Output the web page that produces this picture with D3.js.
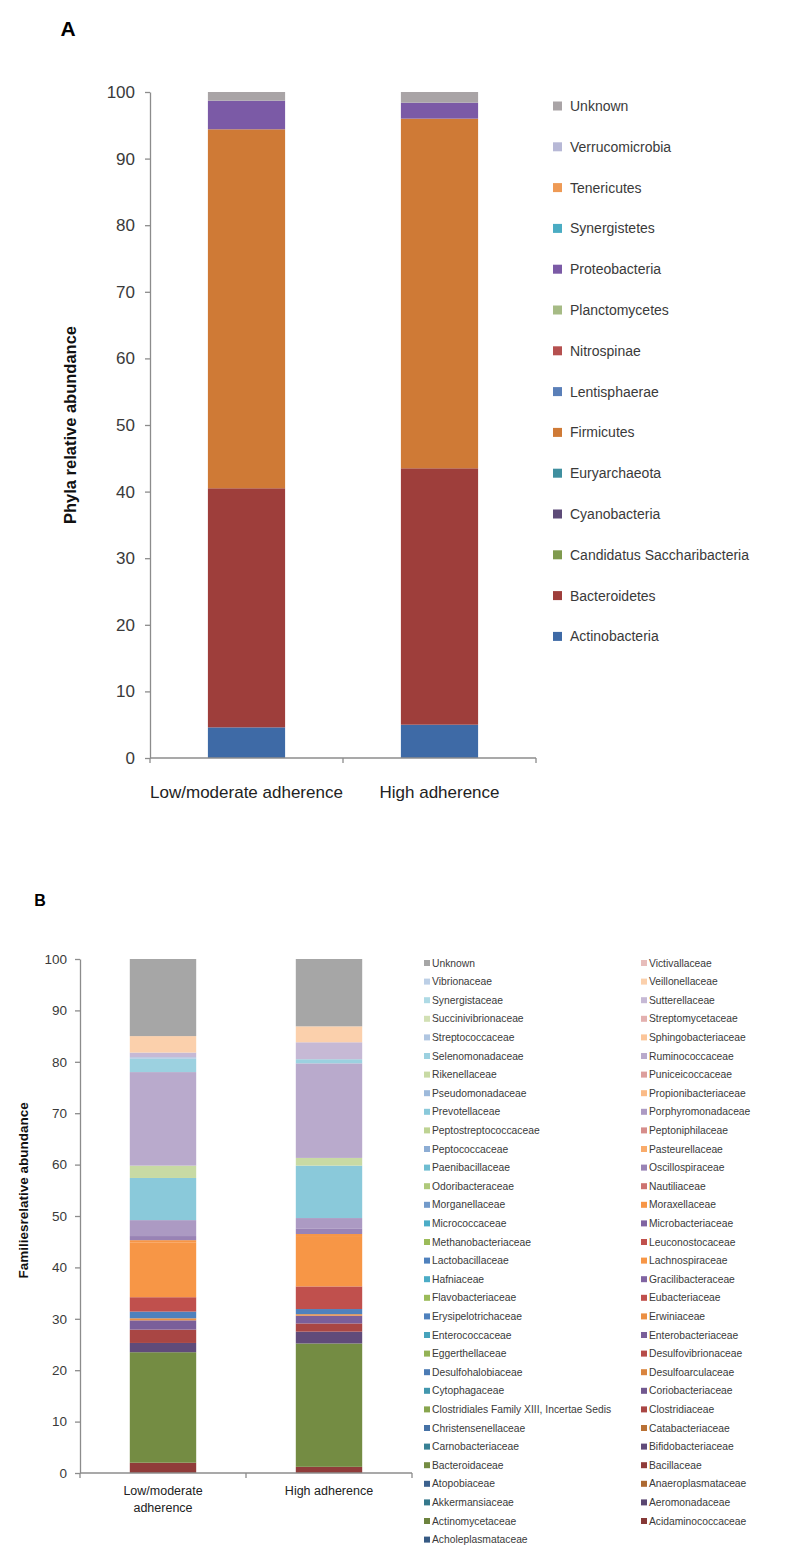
<!DOCTYPE html>
<html>
<head>
<meta charset="utf-8">
<script src="https://cdn.jsdelivr.net/npm/d3@7"></script>
<style>
  body { margin: 0; background: #fff; }
  svg { display: block; font-family: "Liberation Sans", Arial, sans-serif; }
</style>
</head>
<body>
<div id="chart"></div>
<script>
// ---- panel A: phyla ----
const groups = ["Low/moderate adherence", "High adherence"];

const phyla = ["Actinobacteria", "Bacteroidetes", "Candidatus Saccharibacteria", "Cyanobacteria",
  "Euryarchaeota", "Firmicutes", "Lentisphaerae", "Nitrospinae", "Planctomycetes",
  "Proteobacteria", "Synergistetes", "Tenericutes", "Verrucomicrobia", "Unknown"];
const phylaLow  = [4.6, 35.9, 0, 0, 0, 53.9, 0, 0, 0, 4.3, 0, 0, 0, 1.3];
const phylaHigh = [5.0, 38.5, 0, 0, 0, 52.5, 0, 0, 0, 2.4, 0, 0, 0, 1.6];

// ---- panel B: families ----
const families = ["Acholeplasmataceae", "Acidaminococcaceae", "Actinomycetaceae", "Aeromonadaceae",
  "Akkermansiaceae", "Anaeroplasmataceae", "Atopobiaceae", "Bacillaceae", "Bacteroidaceae",
  "Bifidobacteriaceae", "Carnobacteriaceae", "Catabacteriaceae", "Christensenellaceae",
  "Clostridiaceae", "Clostridiales Family XIII, Incertae Sedis", "Coriobacteriaceae",
  "Cytophagaceae", "Desulfoarculaceae", "Desulfohalobiaceae", "Desulfovibrionaceae",
  "Eggerthellaceae", "Enterobacteriaceae", "Enterococcaceae", "Erwiniaceae",
  "Erysipelotrichaceae", "Eubacteriaceae", "Flavobacteriaceae", "Gracilibacteraceae",
  "Hafniaceae", "Lachnospiraceae", "Lactobacillaceae", "Leuconostocaceae",
  "Methanobacteriaceae", "Microbacteriaceae", "Micrococcaceae", "Moraxellaceae",
  "Morganellaceae", "Nautiliaceae", "Odoribacteraceae", "Oscillospiraceae",
  "Paenibacillaceae", "Pasteurellaceae", "Peptococcaceae", "Peptoniphilaceae",
  "Peptostreptococcaceae", "Porphyromonadaceae", "Prevotellaceae", "Propionibacteriaceae",
  "Pseudomonadaceae", "Puniceicoccaceae", "Rikenellaceae", "Ruminococcaceae",
  "Selenomonadaceae", "Sphingobacteriaceae", "Streptococcaceae", "Streptomycetaceae",
  "Succinivibrionaceae", "Sutterellaceae", "Synergistaceae", "Veillonellaceae",
  "Vibrionaceae", "Victivallaceae", "Unknown"];
const familiesLow = [
  0, 0, 0, 0, 0, 0, 0, 2.0, 21.5, 1.8,
  0, 0, 0, 2.6, 0, 0, 0, 0, 0, 0,
  0, 1.8, 0, 0.4, 1.3, 2.8, 0, 0, 0, 10.6,
  0, 0, 0, 0, 0, 0.5, 0, 0, 0, 0.8,
  0, 0, 0, 0, 0, 3.1, 8.2, 0, 0, 0,
  2.4, 18.2, 2.6, 0, 0.3, 0, 0, 0.9, 0, 3.2,
  0, 0, 15.0];
const familiesHigh = [
  0, 0, 0, 0, 0, 0, 0, 1.2, 24.0, 2.3,
  0, 0, 0, 1.6, 0, 0, 0, 0, 0, 0,
  0, 1.5, 0, 0.3, 1.0, 4.4, 0, 0, 0, 9.8,
  0, 0, 0, 0, 0, 0.4, 0, 0, 0, 1.0,
  0, 0, 0, 0, 0, 2.1, 10.2, 0, 0, 0,
  1.5, 18.4, 0.8, 0, 0, 0, 0, 3.3, 0, 3.1,
  0, 0, 13.1];

const yTicks = [0, 10, 20, 30, 40, 50, 60, 70, 80, 90, 100];

// colours
const phylaColors = ["#3e6aa6", "#9e3e3b", "#7f9a4e", "#5d4b78", "#3f8f9f", "#cf7a36",
  "#5a7fb8", "#b5504f", "#a6bb85", "#7b5aa6", "#4aacc3", "#ee9a55", "#b7b8d6", "#a9a4a6"];
const baseHues = ["#4f81bd", "#c0504d", "#9bbb59", "#8064a2", "#4bacc6", "#f79646"];
// shade (<0) or tint (>0) per block of six series
const blockShade = [-0.3, -0.25, -0.12, -0.05, 0, 0, 0.2, 0.35, 0.45, 0.55, 0.62];
function familyColor(name, i) {
  if (name === "Unknown") return "#a6a6a6";
  const base = baseHues[i % 6];
  const s = blockShade[Math.floor(i / 6)];
  return s < 0 ? d3.interpolateRgb(base, "#000")(-s) : d3.interpolateRgb(base, "#fff")(s);
}

const W = 786, H = 1559;
const svg = d3.select("#chart").append("svg")
    .attr("width", W)
    .attr("height", H);

function stackedPanel(opt) {
  const rows = opt.groups.map((g, gi) => {
    const r = {group: g};
    opt.keys.forEach((k, i) => r[k] = opt.values[gi][i]);
    return r;
  });
  const series = d3.stack().keys(opt.keys)(rows);

  const x = d3.scaleBand().domain(opt.groups).range(opt.xRange)
      .paddingInner(0.6).paddingOuter(0.3);
  const y = d3.scaleLinear().domain([0, 100]).range(opt.yRange);

  const g = svg.append("g");

  g.append("g").selectAll("g")
    .data(series)
    .join("g")
      .attr("fill", (d, i) => opt.color(d.key, i))
    .selectAll("rect")
    .data(d => d)
    .join("rect")
      .attr("x", d => x(d.data.group))
      .attr("width", x.bandwidth())
      .attr("y", d => y(d[1]))
      .attr("height", d => y(d[0]) - y(d[1]));

  // y axis
  const yAxis = g.append("g")
      .attr("transform", `translate(${opt.xRange[0]},0)`)
      .call(d3.axisLeft(y).tickValues(yTicks).tickSize(5).tickSizeOuter(0).tickPadding(opt.tickPad));
  yAxis.select(".domain").attr("stroke", "#8c8c8c").attr("stroke-width", 1.3);
  yAxis.selectAll(".tick line").attr("stroke", "#8c8c8c").attr("stroke-width", 1.3);
  yAxis.selectAll(".tick text")
      .attr("fill", "#3a3a3a")
      .style("font-size", opt.tickFont + "px");

  // x axis line with tick marks at category boundaries
  const y0 = y(0);
  g.append("line")
      .attr("x1", opt.xRange[0]).attr("x2", opt.xRange[1])
      .attr("y1", y0).attr("y2", y0)
      .attr("stroke", "#8c8c8c").attr("stroke-width", 1.3);
  g.append("g").selectAll("line")
    .data(d3.range(opt.groups.length + 1))
    .join("line")
      .attr("x1", i => opt.xRange[0] + i * x.step())
      .attr("x2", i => opt.xRange[0] + i * x.step())
      .attr("y1", y0).attr("y2", y0 + 5)
      .attr("stroke", "#8c8c8c").attr("stroke-width", 1.3);

  // category labels
  g.append("g").selectAll("text")
    .data(opt.groups)
    .join("text")
      .attr("x", d => x(d) + x.bandwidth() / 2)
      .attr("y", y0 + opt.labelOffset)
      .attr("text-anchor", "middle")
      .attr("fill", "#222")
      .style("font-size", opt.catFont + "px")
    .selectAll("tspan")
    .data(d => opt.wrap(d))
    .join("tspan")
      .attr("x", function() { return this.parentNode.getAttribute("x"); })
      .attr("dy", (d, i) => i === 0 ? 0 : opt.catFont * 1.35)
      .text(d => d);

  // axis title
  g.append("text")
      .attr("transform", `translate(${opt.titleX},${y(opt.titleAt)}) rotate(-90)`)
      .attr("text-anchor", "middle")
      .attr("font-weight", "bold")
      .attr("fill", "#111")
      .style("font-size", opt.titleFont + "px")
      .text(opt.title);

  return {x, y};
}

// Panel A
stackedPanel({
  groups, keys: phyla, values: [phylaLow, phylaHigh],
  color: (k, i) => phylaColors[i],
  xRange: [150, 536], yRange: [758, 92],
  tickPad: 10, tickFont: 17, catFont: 17, labelOffset: 40,
  wrap: d => [d],
  titleX: 76, titleAt: 50, titleFont: 16.5, title: "Phyla relative abundance"
});

svg.append("text")
    .attr("x", 68).attr("y", 36)
    .attr("text-anchor", "middle")
    .attr("font-weight", "bold")
    .style("font-size", "21px")
    .text("A");

const legA = svg.append("g").selectAll("g")
  .data(phyla.map((p, i) => ({name: p, i})).reverse())
  .join("g")
    .attr("transform", (d, k) => `translate(553,${106 + k * 40.8})`);
legA.append("rect")
    .attr("y", -4.5).attr("width", 9).attr("height", 9)
    .attr("fill", d => phylaColors[d.i]);
legA.append("text")
    .attr("x", 17).attr("dy", "0.36em")
    .attr("fill", "#3a3a3a")
    .style("font-size", "14px")
    .text(d => d.name);

// Panel B
stackedPanel({
  groups, keys: families, values: [familiesLow, familiesHigh],
  color: familyColor,
  xRange: [80, 412], yRange: [1473, 959],
  tickPad: 8, tickFont: 13.5, catFont: 12.5, labelOffset: 22,
  wrap: d => d.startsWith("Low") ? ["Low/moderate", "adherence"] : [d],
  titleX: 28, titleAt: 55, titleFont: 13.5, title: "Familiesrelative abundance"
});

svg.append("text")
    .attr("x", 40).attr("y", 906)
    .attr("text-anchor", "middle")
    .attr("font-weight", "bold")
    .style("font-size", "16px")
    .text("B");

const legB = svg.append("g").selectAll("g")
  .data(families.map((f, i) => ({name: f, i})).reverse())
  .join("g")
    .attr("transform", (d, k) => `translate(${k % 2 ? 641 : 424},${963 + Math.floor(k / 2) * 18.6})`);
legB.append("rect")
    .attr("y", -3).attr("width", 6).attr("height", 6)
    .attr("fill", d => familyColor(d.name, d.i));
legB.append("text")
    .attr("x", 8).attr("dy", "0.35em")
    .attr("fill", "#3a3a3a")
    .style("font-size", "10.3px")
    .text(d => d.name);
</script>
</body>
</html>
